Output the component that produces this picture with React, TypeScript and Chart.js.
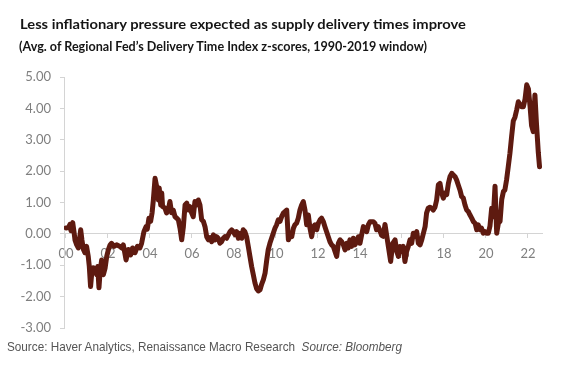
import React, { useEffect, useLayoutEffect, useRef } from "react";
import { Chart, registerables } from "chart.js";

Chart.register(...registerables);

const TITLE = "Less inflationary pressure expected as supply delivery times improve";
const SUBTITLE = "(Avg. of Regional Fed’s Delivery Time Index z-scores, 1990-2019 window)";
const SOURCE_MAIN = "Source: Haver Analytics, Renaissance Macro Research";
const SOURCE_ITALIC = "Source: Bloomberg";

// decimal years
const dates = [
  2000.0, 2000.11, 2000.19, 2000.24, 2000.32, 2000.38, 2000.43, 2000.51, 2000.59, 2000.7,
  2000.76, 2000.83, 2000.9, 2000.98, 2001.06, 2001.11, 2001.17, 2001.24, 2001.3, 2001.38,
  2001.46, 2001.51, 2001.57, 2001.63, 2001.7, 2001.78, 2001.86, 2001.94, 2002.02, 2002.1,
  2002.17, 2002.29, 2002.41, 2002.57, 2002.65, 2002.73, 2002.86, 2002.97, 2003.08, 2003.17,
  2003.29, 2003.4, 2003.52, 2003.6, 2003.71, 2003.81, 2003.87, 2003.95, 2004.03, 2004.1,
  2004.16, 2004.24, 2004.32, 2004.4, 2004.44, 2004.51, 2004.56, 2004.6, 2004.71, 2004.79,
  2004.87, 2004.95, 2005.03, 2005.11, 2005.19, 2005.27, 2005.35, 2005.43, 2005.51, 2005.59,
  2005.67, 2005.75, 2005.83, 2005.9, 2005.98, 2006.06, 2006.14, 2006.22, 2006.3, 2006.38,
  2006.46, 2006.54, 2006.62, 2006.7, 2006.78, 2006.86, 2006.94, 2007.02, 2007.1, 2007.17,
  2007.25, 2007.33, 2007.41, 2007.49, 2007.57, 2007.65, 2007.73, 2007.81, 2007.89, 2007.97,
  2008.05, 2008.13, 2008.21, 2008.29, 2008.37, 2008.44, 2008.52, 2008.6, 2008.68, 2008.76,
  2008.84, 2008.92, 2009.0, 2009.08, 2009.16, 2009.24, 2009.32, 2009.4, 2009.48, 2009.56,
  2009.63, 2009.71, 2009.79, 2009.87, 2009.95, 2010.03, 2010.11, 2010.19, 2010.27, 2010.35,
  2010.43, 2010.51, 2010.59, 2010.67, 2010.75, 2010.83, 2010.9, 2010.98, 2011.06, 2011.14,
  2011.22, 2011.3, 2011.38, 2011.46, 2011.54, 2011.62, 2011.7, 2011.78, 2011.86, 2011.94,
  2012.02, 2012.1, 2012.17, 2012.25, 2012.33, 2012.41, 2012.49, 2012.57, 2012.65, 2012.73,
  2012.81, 2012.89, 2012.97, 2013.05, 2013.13, 2013.21, 2013.29, 2013.37, 2013.44, 2013.52,
  2013.6, 2013.68, 2013.76, 2013.84, 2013.92, 2014.0, 2014.08, 2014.16, 2014.24, 2014.32,
  2014.4, 2014.48, 2014.56, 2014.63, 2014.71, 2014.79, 2014.87, 2014.95, 2015.03, 2015.11,
  2015.19, 2015.27, 2015.35, 2015.46, 2015.56, 2015.67, 2015.75, 2015.83, 2015.9, 2015.98,
  2016.06, 2016.14, 2016.22, 2016.3, 2016.38, 2016.46, 2016.54, 2016.62, 2016.7, 2016.78,
  2016.86, 2016.94, 2017.02, 2017.1, 2017.17, 2017.25, 2017.33, 2017.41, 2017.49, 2017.57,
  2017.65, 2017.73, 2017.81, 2017.89, 2017.97, 2018.05, 2018.13, 2018.21, 2018.29, 2018.37,
  2018.44, 2018.52, 2018.6, 2018.68, 2018.76, 2018.84, 2018.92, 2019.0, 2019.08, 2019.16,
  2019.24, 2019.32, 2019.4, 2019.48, 2019.56, 2019.63, 2019.71, 2019.79, 2019.87, 2019.95,
  2020.03, 2020.11, 2020.19, 2020.27, 2020.35, 2020.43, 2020.51, 2020.59, 2020.67, 2020.75,
  2020.83, 2020.9, 2020.98, 2021.06, 2021.14, 2021.22, 2021.3, 2021.38, 2021.46, 2021.54,
  2021.62, 2021.7, 2021.78, 2021.86, 2021.94, 2022.02, 2022.1, 2022.17, 2022.25, 2022.33,
  2022.4, 2022.49, 2022.55,
];

const zScores = [
  0.19, 0.2, 0.3, 0.1, 0.36, 0.07, -0.2, -0.35, -0.45, 0.13,
  -0.2, -0.5, -0.6, -0.4, -0.72, -1.04, -1.68, -1.15, -1.08, -1.15,
  -1.3, -1.04, -1.72, -1.15, -0.83, -1.3, -1.1, -0.72, -0.5, -0.35,
  -0.3, -0.4, -0.35, -0.4, -0.45, -0.35, -0.83, -0.5, -0.67, -0.45,
  -0.6, -0.4, -0.45, -0.3, 0.07, 0.23, 0.15, 0.5, 0.4, 0.67,
  1.08, 1.77, 1.5, 1.08, 1.46, 0.92, 1.3, 0.87, 0.83, 0.67,
  0.76, 1.03, 0.67, 0.76, 0.55, 0.5, 0.45, 0.18, -0.19, 0.23,
  0.92, 0.98, 0.76, 0.87, 0.67, 0.55, 1.03, 0.92, 1.08, 0.92,
  0.45, 0.4, 0.23, -0.09, -0.19, -0.12, -0.25, -0.03, -0.19, -0.09,
  -0.14, -0.3, -0.25, -0.14, -0.09, -0.14, -0.03, 0.07, 0.13, 0.07,
  -0.03, 0.07, -0.14, 0.02, -0.14, 0.13, 0.07, -0.09, -0.4, -0.72,
  -1.04, -1.3, -1.57, -1.75, -1.82, -1.78, -1.6, -1.46, -1.25, -0.83,
  -0.5, -0.3, -0.14, 0.02, 0.18, 0.29, 0.45, 0.4, 0.55, 0.66,
  0.71, 0.76, -0.19, -0.03, -0.09, 0.18, 0.29, 0.34, 0.5, 0.76,
  0.92, 1.03, 0.76, 0.29, 0.6, 0.18, -0.09, 0.23, 0.29, 0.13,
  0.34, 0.45, 0.5, 0.4, 0.23, 0.07, -0.09, -0.25, -0.35, -0.4,
  -0.56, -0.72, -0.3, -0.19, -0.25, -0.35, -0.51, -0.3, -0.45, -0.19,
  -0.4, -0.14, -0.35, -0.25, -0.09, -0.3, -0.03, 0.23, 0.18, 0.07,
  0.29, 0.39, 0.39, 0.39, 0.34, 0.13, 0.23, 0.1, -0.05, -0.08,
  0.3, -0.05, -0.4, -0.88, -0.3, -0.19, -0.56, -0.72, -0.4, -0.56,
  -0.4, -0.88, -0.56, -0.4, -0.19, -0.3, 0.02, -0.08, 0.07, -0.3,
  -0.35, -0.19, 0.02, 0.23, 0.66, 0.82, 0.85, 0.82, 0.76, 0.85,
  1.08, 1.56, 1.61, 1.3, 1.14, 1.3, 1.25, 1.61, 1.83, 1.93,
  1.88, 1.83, 1.72, 1.56, 1.4, 1.19, 1.14, 0.92, 0.76, 0.71,
  0.6, 0.5, 0.39, 0.34, 0.13, 0.29, 0.13, 0.18, 0.02, 0.07,
  0.02, 0.02, 0.25, 0.82, 0.55, 1.52, 0.02, 0.34, 0.4, 1.1,
  1.35, 1.4, 1.72, 2.14, 2.57, 3.1, 3.6, 3.72, 3.95, 4.21,
  4.13, 4.05, 4.05, 4.3, 4.75, 4.62, 4.05, 3.45, 3.26, 4.43,
  3.55, 2.6, 2.14,
];

const xTickValues = [2000, 2002, 2004, 2006, 2008, 2010, 2012, 2014, 2016, 2018, 2020, 2022];
const xTickLabels = ["00", "02", "04", "06", "08", "10", "12", "14", "16", "18", "20", "22"];
const yTickValues = [5, 4, 3, 2, 1, 0, -1, -2, -3];

const LINE_COLOR = "#5e1a10";
const AXIS_COLOR = "#d4d4d4";
const TICK_TEXT = "#7f7f7f";

function FitText(props: { width: number; style: React.CSSProperties; children: React.ReactNode }) {
  const ref = useRef<HTMLDivElement>(null);
  useLayoutEffect(() => {
    const el = ref.current;
    if (!el) return;
    el.style.transform = "none";
    const w = el.getBoundingClientRect().width;
    if (w > 0) el.style.transform = `scaleX(${props.width / w})`;
  }, [props.width]);
  return (
    <div
      ref={ref}
      style={{
        position: "absolute",
        whiteSpace: "pre",
        transformOrigin: "left center",
        display: "inline-block",
        ...props.style,
      }}
    >
      {props.children}
    </div>
  );
}

export default function App() {
  const canvasRef = useRef<HTMLCanvasElement>(null);

  useEffect(() => {
    const canvas = canvasRef.current;
    if (!canvas) return;
    const chart = new Chart(canvas, {
      type: "line",
      data: {
        datasets: [
          {
            data: dates.map((d, i) => ({ x: d, y: zScores[i] })),
            borderColor: LINE_COLOR,
            borderWidth: 5,
            pointRadius: 0,
            tension: 0,
            borderJoinStyle: "round",
            borderCapStyle: "round",
          },
        ],
      },
      options: {
        animation: false,
        responsive: false,
        events: [],
        layout: { padding: { left: 8, top: 77, right: 36, bottom: 44 } },
        plugins: {
          legend: { display: false },
          tooltip: { enabled: false },
          title: { display: false },
        },
        scales: {
          x: {
            type: "linear",
            position: { y: 0 },
            min: 1999.905,
            max: 2022.667,
            afterBuildTicks: (s: any) => {
              s.ticks = xTickValues.map((v) => ({ value: v }));
            },
            ticks: {
              autoSkip: false,
              maxRotation: 0,
              padding: 8,
              color: TICK_TEXT,
              font: { family: "Lato", size: 13 },
              callback: (_v: any, i: number) => xTickLabels[i],
            },
            grid: { drawOnChartArea: false, drawTicks: true, tickLength: 4, color: AXIS_COLOR },
            border: { display: true, color: AXIS_COLOR, width: 1 },
          },
          y: {
            type: "linear",
            min: -3,
            max: 5,
            afterBuildTicks: (s: any) => {
              s.ticks = yTickValues.map((v) => ({ value: v }));
            },
            afterFit: (s: any) => {
              s.width = 56;
            },
            ticks: {
              padding: 9,
              color: TICK_TEXT,
              font: { family: "Lato", size: 13 },
              callback: (v: any) => Number(v).toFixed(2),
            },
            grid: { drawOnChartArea: false, drawTicks: true, tickLength: 4, color: AXIS_COLOR },
            border: { display: true, color: AXIS_COLOR, width: 1 },
          },
        },
      },
    } as any);
    return () => chart.destroy();
  }, []);

  return (
    <div
      style={{
        position: "absolute",
        left: 0,
        top: 0,
        width: 578,
        height: 372,
        background: "#ffffff",
        overflow: "hidden",
      }}
    >
      <canvas
        ref={canvasRef}
        width={578}
        height={372}
        style={{ position: "absolute", left: 0, top: 0, width: 578, height: 372 }}
      />
      <FitText
        width={446}
        style={{
          left: 20,
          top: 16,
          fontFamily: "Lato",
          fontWeight: 700,
          fontSize: 14,
          lineHeight: "16px",
          color: "#151515",
        }}
      >
        {TITLE}
      </FitText>
      <FitText
        width={408}
        style={{
          left: 19,
          top: 39,
          fontFamily: "Lato",
          fontWeight: 700,
          fontSize: 12.5,
          lineHeight: "15px",
          color: "#151515",
        }}
      >
        {SUBTITLE}
      </FitText>
      <FitText
        width={395}
        style={{
          left: 7,
          top: 339,
          fontFamily: "Liberation Sans",
          fontSize: 13,
          lineHeight: "16px",
          color: "#555555",
        }}
      >
        {SOURCE_MAIN}
        {"  "}
        <span style={{ fontStyle: "italic" }}>{SOURCE_ITALIC}</span>
      </FitText>
    </div>
  );
}
